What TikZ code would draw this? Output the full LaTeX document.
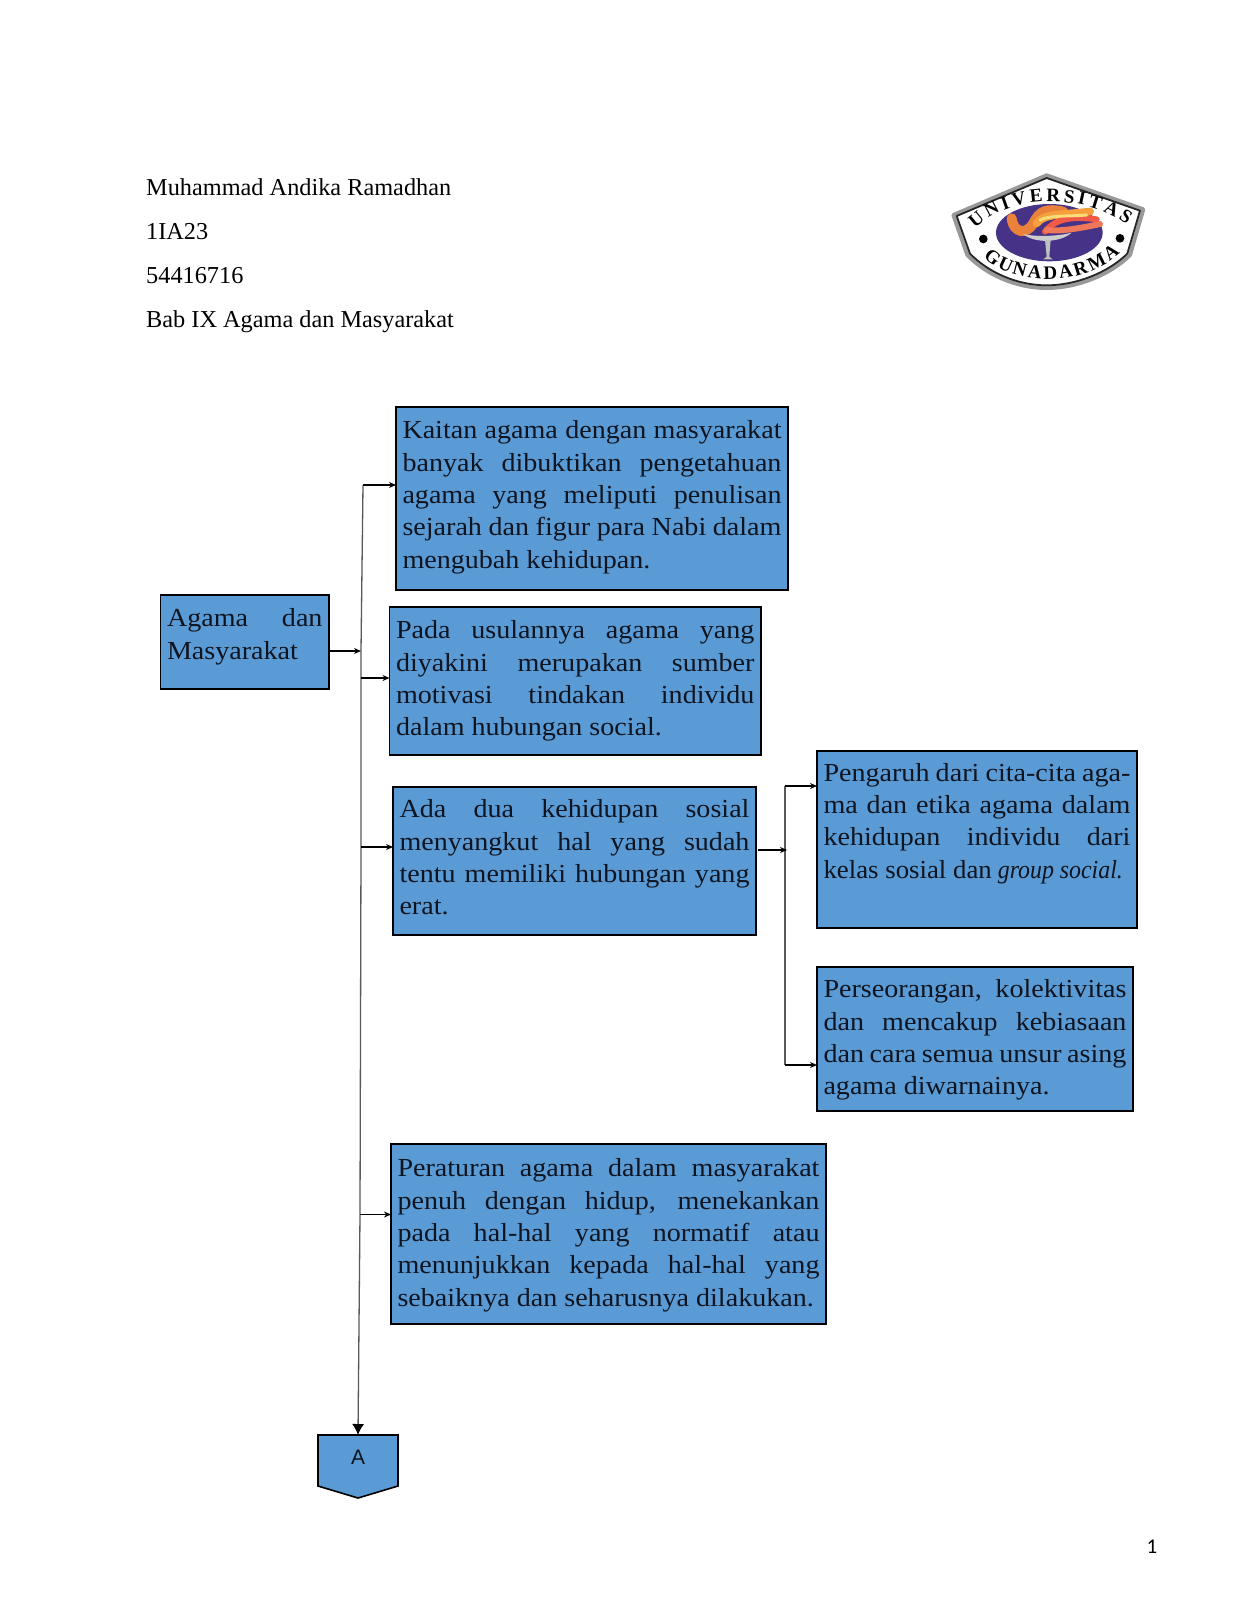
\documentclass[tikz,border=0pt]{standalone}
\usepackage{fontspec}
\usetikzlibrary{arrows.meta,decorations.text}
\setmainfont{Liberation Serif}[FakeStretch=1.08]
\newfontfamily\headfont{Liberation Serif}
\newfontfamily\arialfont{Liberation Sans}
\newfontfamily\calfont{Carlito}
\definecolor{boxblue}{HTML}{5B9BD5}
\definecolor{inkc}{HTML}{0E1420}
\newcommand{\Lj}[1]{\makebox[\linewidth][s]{\strut #1}\par}
\newcommand{\Ln}[1]{\strut #1\par}
\newcommand{\bxt}[4]{\parbox[c][#2pt][t]{#1pt}{\fontsize{26}{32.4}\selectfont\parindent=0pt\vspace*{#3pt}#4}}
\tikzset{
  bx/.style={draw=black,line width=1.6pt,fill=boxblue,text=inkc,anchor=north west,inner xsep=6.5pt,inner ysep=0pt,outer sep=0pt},
  head/.style={anchor=base west,inner sep=0pt,text=black,font=\headfont\fontsize{24.3}{30}\selectfont},
  trunk/.style={draw=black!65,line width=1.3pt},
  arr/.style={draw=black,line width=1.5pt,-{Stealth[length=7pt,width=6pt]}},
  bigarr/.style={draw=black!65,line width=1.3pt,-{Latex[length=11pt,width=12pt,black]}}
}
\begin{document}
\begin{tikzpicture}[x=1pt,y=-1pt]
\useasboundingbox[fill=white] (0,0) rectangle (1236,1600);
\node[head] (h1) at (146,195) {Muhammad Andika Ramadhan};
\node[head] (h2) at (146,239) {1IA23};
\node[head] (h3) at (146,283) {54416716};
\node[head] (h4) at (146,327) {Bab IX Agama dan Masyarakat};
% logo
\begin{scope}[shift={(930,160)}]
\begin{scope}[x=0.3333pt,y=-0.3333pt]
\path[draw=black!40,line width=4pt,line join=round] (70,165) -- (350,46) -- (640,148) -- (600,285) .. controls (540,345) and (440,384) .. (350,384) .. controls (260,384) and (170,345) .. (112,285) -- cycle;
\path[draw=black!85,fill=white,line width=1.8pt,line join=round] (80,168) -- (350,54) -- (630,152) -- (592,281) .. controls (534,338) and (438,376) .. (350,376) .. controls (262,376) and (176,338) .. (120,281) -- cycle;
\fill[fill={rgb,255:red,70;green,50;blue,135}] (358,218) ellipse [x radius=160, y radius=86];
\path[draw={rgb,255:red,235;green,130;blue,60},line width=10pt,line cap=round] (245,175) .. controls (250,220) and (290,225) .. (310,190) .. controls (330,150) and (350,145) .. (400,155);
\path[draw={rgb,255:red,245;green,160;blue,60},line width=8pt,line cap=round] (320,190) .. controls (340,160) and (400,165) .. (480,155);
\path[draw={rgb,255:red,240;green,90;blue,70},line width=6pt,line cap=round] (345,215) .. controls (380,170) and (440,170) .. (500,178);
\path[draw={rgb,255:red,240;green,120;blue,90},line width=6pt,line cap=round] (350,210) .. controls (390,215) and (450,205) .. (510,192);
\path[draw={rgb,255:red,250;green,220;blue,120},line width=3pt,line cap=round] (330,180) .. controls (360,165) and (410,170) .. (470,165);
\fill[fill=black!20] (280,222) .. controls (310,250) and (390,250) .. (425,218) .. controls (390,228) and (320,232) .. (280,222) -- cycle;
\fill[fill=black!25] (345,240) -- (362,240) -- (358,290) -- (368,298) -- (340,298) -- (350,290) -- cycle;
\fill[black] (160,237) circle (13);
\fill[black] (570,235) circle (13);
\path[decorate,decoration={text along path,text align={fit to path},text={|\headfont\bfseries\fontsize{19}{19}\selectfont|UNIVERSITAS}}] (135,205) .. controls (240,100) and (470,100) .. (590,195);
\path[decorate,decoration={text along path,text align={fit to path},text={|\headfont\bfseries\fontsize{19}{19}\selectfont|GUNADARMA}}] (160,290) .. controls (250,382) and (460,382) .. (570,280);
\end{scope}
\end{scope}
% boxes
\node[bx] (root) at (160.5,595) {\bxt{155.5}{94}{9}{\Lj{Agama dan}\Ln{Masyarakat}}};
\node[bx] (b1) at (396,407) {\bxt{379}{183}{9}{\Lj{Kaitan agama dengan masyarakat}\Lj{banyak dibuktikan pengetahuan}\Lj{agama yang meliputi penulisan}\Lj{sejarah dan figur para Nabi dalam}\Ln{mengubah kehidupan.}}};
\node[bx] (b2) at (389.5,607) {\bxt{358.5}{148}{9}{\Lj{Pada usulannya agama yang}\Lj{diyakini merupakan sumber}\Lj{motivasi tindakan individu}\Ln{dalam hubungan social.}}};
\node[bx] (b3) at (393,787) {\bxt{350}{148}{8}{\Lj{Ada dua kehidupan sosial}\Lj{menyangkut hal yang sudah}\Lj{tentu memiliki hubungan yang}\Ln{erat.}}};
\node[bx] (b4) at (817,751) {\bxt{307}{177}{7.5}{\Lj{Pengaruh dari cita-cita aga-}\Lj{ma dan etika agama dalam}\Lj{kehidupan individu dari}\Ln{\scalebox{0.955}[1]{kelas sosial dan}\hspace{6pt}\scalebox{0.85}[1]{\textit{group social.}}}}};
\node[bx] (b5) at (817,967) {\bxt{303}{144}{8}{\Lj{Perseorangan, kolektivitas}\Lj{dan mencakup kebiasaan}\Lj{dan cara semua unsur asing}\Ln{agama diwarnainya.}}};
\node[bx] (b6) at (391,1144) {\bxt{422}{180}{10}{\Lj{Peraturan agama dalam masyarakat}\Lj{penuh dengan hidup, menekankan}\Lj{pada hal-hal yang normatif atau}\Lj{menunjukkan kepada hal-hal yang}\Ln{sebaiknya dan seharusnya dilakukan.}}};
% off-page connector
\coordinate (anw) at (318,1435);
\coordinate (ane) at (398,1435);
\coordinate (ase) at (398,1486);
\coordinate (atip) at (358,1498);
\coordinate (asw) at (318,1486);
\coordinate (atop) at (358,1435);
\path[fill=boxblue,draw=black,line width=1.6pt,line join=miter] (anw) -- (ane) -- (ase) -- (atip) -- (asw) -- cycle;
\node[inner sep=0pt,text=inkc,font=\arialfont\fontsize{21}{21}\selectfont] (alabel) at (358,1457.5) {A};
\node[anchor=center,inner sep=0pt,text=black,font=\calfont\fontsize{21}{21}\selectfont] (pg) at (1152,1547) {1};
% connectors
\coordinate (t1) at (363,485);
\coordinate (jroot) at (361,651);
\coordinate (j2) at (361,678);
\coordinate (j3) at (361,847);
\coordinate (j6) at (360,1214.5);
\coordinate (s1) at (330,651);
\draw[trunk] (t1) -- (jroot) -- (j2) -- (j3) -- (j6);
\draw[bigarr] (j6) -- (atop);
\draw[arr] (t1) -- (t1 -| b1.west);
\draw[arr] (s1) -- (jroot);
\draw[arr] (j2) -- (j2 -| b2.west);
\draw[arr] (j3) -- (j3 -| b3.west);
\draw[arr] (j6) -- (j6 -| b6.west);
\coordinate (r0) at (758,850);
\coordinate (r1) at (785,786);
\coordinate (rm) at (787,850);
\coordinate (r2) at (785,1065);
\draw[trunk] (r1) -- (r2);
\draw[arr] (r0) -- (rm);
\draw[arr] (r1) -- (r1 -| b4.west);
\draw[arr] (r2) -- (r2 -| b5.west);
\end{tikzpicture}
\end{document}
